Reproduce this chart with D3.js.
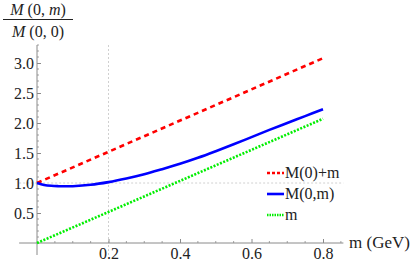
<!DOCTYPE html>
<html><head><meta charset="utf-8"><script src="https://cdn.jsdelivr.net/npm/d3@7"></script>
</head>
<body style="margin:0">
<svg id="s" width="417" height="262"></svg>
<script>
// ---- data ----
const mValues = [0, 0.02, 0.04, 0.06, 0.08, 0.1, 0.15, 0.2, 0.25, 0.3, 0.35, 0.4, 0.45, 0.5, 0.55, 0.6, 0.65, 0.7, 0.75, 0.8];
const blueValues = [1.0, 0.968, 0.953, 0.947, 0.945, 0.947, 0.97, 1.015, 1.075, 1.145, 1.23, 1.32, 1.42, 1.53, 1.645, 1.765, 1.885, 2.0, 2.115, 2.23];
const redEnds = [[0, 1.0], [0.8, 3.08]];
const greenEnds = [[0, 0.0], [0.8, 2.07]];
const xTicks = [0.2, 0.4, 0.6, 0.8];
const xTickLabels = ["0.2", "0.4", "0.6", "0.8"];
const yTicks = [0.5, 1.0, 1.5, 2.0, 2.5, 3.0];
const yTickLabels = ["0.5", "1.0", "1.5", "2.0", "2.5", "3.0"];
const legendLabels = ["M(0)+m", "M(0,m)", "m"];
const xGrid = [0.2];
const yGrid = [1.0];

const TXT = "#222";
const svg = d3.select("#s");
const x = d3.scaleLinear().domain([0, 0.8]).range([37, 323]);
const y = d3.scaleLinear().domain([0, 3]).range([243, 63]);
const xMin = -0.05, xMax = 0.857, yMin = -0.2, yMax = 3.3;

function txt(sel, size) {
  return sel.attr("style", `font-family: 'Liberation Serif', 'Tinos', serif !important; font-size: ${size}px !important;`)
    .attr("fill", TXT);
}

// grid lines
svg.selectAll(".xg").data(xGrid).enter().append("line")
  .attr("x1", d => x(d)).attr("x2", d => x(d))
  .attr("y1", y(yMax)).attr("y2", y(yMin))
  .attr("stroke", "#d0d0d0").attr("stroke-width", 1).attr("stroke-dasharray", "2,2");
svg.selectAll(".yg").data(yGrid).enter().append("line")
  .attr("x1", x(xMin)).attr("x2", x(xMax))
  .attr("y1", d => y(d)).attr("y2", d => y(d))
  .attr("stroke", "#d0d0d0").attr("stroke-width", 1).attr("stroke-dasharray", "2,2");

// axes lines
const axisColor = "#8a8a8a";
svg.append("line").attr("x1", x(xMin)).attr("x2", x(xMax)).attr("y1", y(0)).attr("y2", y(0))
  .attr("stroke", axisColor).attr("stroke-width", 1);
svg.append("line").attr("x1", x(0)).attr("x2", x(0)).attr("y1", y(yMin)).attr("y2", y(yMax))
  .attr("stroke", axisColor).attr("stroke-width", 1);

// minor ticks
const xMinor = d3.range(0.05, 0.86, 0.05).filter(v => Math.abs(v / 0.2 - Math.round(v / 0.2)) > 1e-6);
const yMinor = d3.range(0.1, 3.31, 0.1).filter(v => Math.abs(v / 0.5 - Math.round(v / 0.5)) > 1e-6);
svg.selectAll(".xmin").data(xMinor).enter().append("line")
  .attr("x1", d => x(d)).attr("x2", d => x(d)).attr("y1", y(0)).attr("y2", y(0) - 2)
  .attr("stroke", axisColor).attr("stroke-width", 0.8);
svg.selectAll(".ymin").data(yMinor).enter().append("line")
  .attr("x1", x(0)).attr("x2", x(0) + 2).attr("y1", d => y(d)).attr("y2", d => y(d))
  .attr("stroke", axisColor).attr("stroke-width", 0.8);

// major ticks + labels via d3 axes
const xAxis = d3.axisBottom(x).tickValues(xTicks).tickFormat((d, i) => xTickLabels[i])
  .tickSizeInner(-4).tickSizeOuter(0).tickPadding(5);
const gx = svg.append("g").attr("transform", `translate(0,${y(0)})`).call(xAxis)
  .attr("font-family", null).attr("font-size", null);
gx.select(".domain").remove();
gx.selectAll(".tick line").attr("stroke", axisColor);
txt(gx.selectAll(".tick text"), 16);

const yAxis = d3.axisLeft(y).tickValues(yTicks).tickFormat((d, i) => yTickLabels[i])
  .tickSizeInner(-4).tickSizeOuter(0).tickPadding(3);
const gy = svg.append("g").attr("transform", `translate(${x(0)},0)`).call(yAxis)
  .attr("font-family", null).attr("font-size", null);
gy.select(".domain").remove();
gy.selectAll(".tick line").attr("stroke", axisColor);
txt(gy.selectAll(".tick text"), 16);

// series
const line = d3.line().x(d => x(d[0])).y(d => y(d[1]));
svg.append("path").datum(redEnds).attr("d", line).attr("fill", "none")
  .attr("stroke", "#ff0000").attr("stroke-width", 2.6).attr("stroke-dasharray", "5,4");
svg.append("path").datum(greenEnds).attr("d", line).attr("fill", "none")
  .attr("stroke", "#00ee00").attr("stroke-width", 2.6).attr("stroke-dasharray", "2,1.5");
const blueCurve = d3.line().curve(d3.curveCatmullRom).x(d => x(d[0])).y(d => y(d[1]));
svg.append("path").datum(mValues.map((m, i) => [m, blueValues[i]])).attr("d", blueCurve)
  .attr("fill", "none").attr("stroke", "#0000ff").attr("stroke-width", 2.6);

// legend
const legendStyles = [
  { color: "#ff0000", dash: "3,2" },
  { color: "#0000ff", dash: null },
  { color: "#00ee00", dash: "1.5,1" }
];
legendLabels.forEach((lab, i) => {
  const ly = 173 + i * 21;
  const l = svg.append("line").attr("x1", 267).attr("x2", 284).attr("y1", ly).attr("y2", ly)
    .attr("stroke", legendStyles[i].color).attr("stroke-width", 2.6);
  if (legendStyles[i].dash) l.attr("stroke-dasharray", legendStyles[i].dash);
  txt(svg.append("text").attr("x", 285).attr("y", ly + 5), 16).text(lab);
});

// axis labels
txt(svg.append("text").attr("x", 349).attr("y", 248), 17).text("m (GeV)");

const num = txt(svg.append("text").attr("x", 38).attr("y", 15).attr("text-anchor", "middle"), 16);
num.append("tspan").attr("font-style", "italic").text("M");
num.append("tspan").text(" (0, ");
num.append("tspan").attr("font-style", "italic").text("m");
num.append("tspan").text(")");
svg.append("line").attr("x1", 3).attr("x2", 73).attr("y1", 19.5).attr("y2", 19.5).attr("stroke", TXT).attr("stroke-width", 1);
const den = txt(svg.append("text").attr("x", 38).attr("y", 37).attr("text-anchor", "middle"), 16);
den.append("tspan").attr("font-style", "italic").text("M");
den.append("tspan").text(" (0, 0)");
</script>
</body>
</html>
